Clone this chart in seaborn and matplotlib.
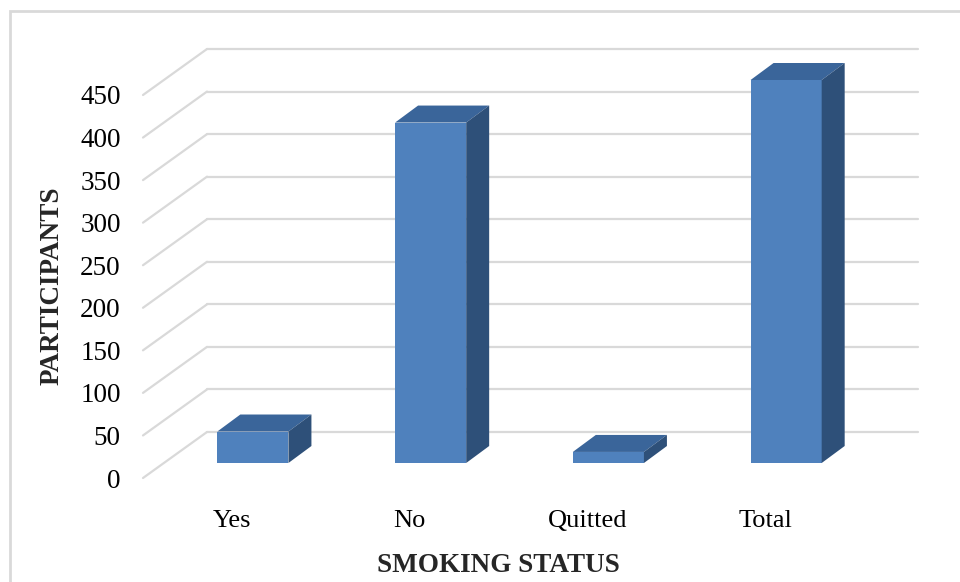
import matplotlib
matplotlib.use("Agg")
import matplotlib.pyplot as plt
from matplotlib.patches import Polygon, Rectangle
import seaborn as sns
import pandas as pd

# Smoking status of participants
categories = ["Yes", "No", "Quitted", "Total"]
participants = [37, 400, 13, 450]
y_ticks = [0, 50, 100, 150, 200, 250, 300, 350, 400, 450]

FRONT = "#4F81BD"
TOP = "#3A659A"
SIDE = "#2E5079"
GRID = "#D9D9D9"
SERIF = "Liberation Serif"

W, H = 960, 582
sns.set_style("white")
fig = plt.figure(figsize=(W / 100, H / 100), dpi=100)

# plot area (front wall) in pixels
left, right, top, bottom = 143, 854, 95, 478
ax = fig.add_axes([left / W, 1 - bottom / H, (right - left) / W, (bottom - top) / H])
ax.set_xlim(-0.5, len(categories) - 0.5)
ax.set_ylim(0, max(y_ticks))

px_x = (right - left) / len(categories)   # pixels per category unit
px_y = (bottom - top) / max(y_ticks)      # pixels per value unit


def offset(dx_px, dy_px):
    return dx_px / px_x, dy_px / px_y


wall_dx, wall_dy = offset(64, 46)    # front wall -> back wall
gap_dx, gap_dy = offset(21, 15)      # front wall -> bar front face
deep_dx, deep_dy = offset(23, 17)    # bar depth

# gridlines: diagonal on the side wall, horizontal on the back wall
x0, x1 = ax.get_xlim()
for v in y_ticks:
    ax.plot([x0, x0 + wall_dx], [v, v + wall_dy], color=GRID, lw=1.6,
            clip_on=False, zorder=0)
    ax.plot([x0 + wall_dx, x1 + wall_dx], [v + wall_dy, v + wall_dy],
            color=GRID, lw=1.6, clip_on=False, zorder=0)

df = pd.DataFrame({"status": categories, "participants": participants})
sns.barplot(data=df, x="status", y="participants", color=FRONT,
            saturation=1, width=0.4, ax=ax, zorder=3)

# push the bars back into the floor and give them depth
for bar in ax.patches:
    bx, bw, bh = bar.get_x(), bar.get_width(), bar.get_height()
    bar.set_x(bx + gap_dx)
    bar.set_y(gap_dy)
    bar.set_clip_on(False)
    bar.set_edgecolor("none")
    xa, xb = bx + gap_dx, bx + gap_dx + bw
    ya, yb = gap_dy, gap_dy + bh
    top_face = Polygon([(xa, yb), (xb, yb), (xb + deep_dx, yb + deep_dy),
                        (xa + deep_dx, yb + deep_dy)], closed=True,
                       facecolor=TOP, edgecolor="none", zorder=3, clip_on=False)
    side_face = Polygon([(xb, ya), (xb, yb), (xb + deep_dx, yb + deep_dy),
                         (xb + deep_dx, ya + deep_dy)], closed=True,
                        facecolor=SIDE, edgecolor="none", zorder=3, clip_on=False)
    ax.add_patch(top_face)
    ax.add_patch(side_face)

for s in ax.spines.values():
    s.set_visible(False)
ax.set_xlabel("")
ax.set_ylabel("")
ax.set_yticks(y_ticks)
ax.set_yticklabels([str(v) for v in y_ticks], fontfamily=SERIF, fontsize=19.5)
ax.set_xticks(range(len(categories)))
ax.set_xticklabels(categories, fontfamily=SERIF, fontsize=19)
ax.tick_params(axis="y", length=0, pad=16, colors="black")
ax.tick_params(axis="x", length=0, pad=23, colors="black")
ax.patch.set_alpha(0)

fig.text(498 / W, 1 - 566 / H, "SMOKING STATUS", ha="center", va="center",
         fontfamily=SERIF, fontweight="bold", fontsize=19.5)
fig.text(52 / W, 1 - 286 / H, "PARTICIPANTS", ha="center", va="center",
         rotation=90, fontfamily=SERIF, fontweight="bold", fontsize=19.5)

# chart-area border (only top and left edges fall inside the image)
fig.add_artist(Rectangle((10 / W, -0.1), 1.2, 1.1 - 11 / H,
                         transform=fig.transFigure, fill=False,
                         edgecolor=GRID, lw=2))

fig.savefig("out.png", dpi=100)
